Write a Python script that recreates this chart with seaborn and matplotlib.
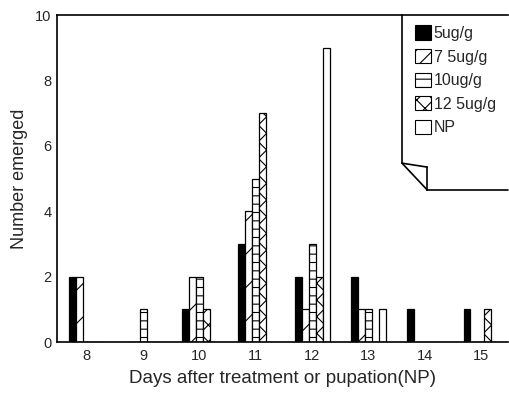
import pandas as pd
import seaborn as sns
import matplotlib.pyplot as plt
from matplotlib.patches import Patch
from matplotlib.lines import Line2D

# Values
days = [8, 9, 10, 11, 12, 13, 14, 15]
doses = ["5ug/g", "7 5ug/g", "10ug/g", "12 5ug/g", "NP"]
dose_5 = [2, 0, 1, 3, 2, 2, 1, 1]
dose_75 = [2, 0, 2, 4, 1, 1, 0, 0]
dose_10 = [0, 1, 2, 5, 3, 1, 0, 0]
dose_125 = [0, 0, 1, 7, 2, 0, 0, 1]
np_counts = [0, 0, 0, 0, 9, 1, 0, 0]

hatches = ["", "/", "--", "xx", ""]
legend_hatches = ["", "//", "--", "xx", ""]
faces = ["black", "white", "white", "white", "white"]

rows = []
for dose, vals in zip(doses, [dose_5, dose_75, dose_10, dose_125, np_counts]):
    for d, v in zip(days, vals):
        rows.append({"day": d, "count": v, "dose": dose})
df = pd.DataFrame(rows)

sns.set_style("white")
plt.rcParams['font.family'] = ['Liberation Sans', 'DejaVu Sans']
plt.rcParams['hatch.linewidth'] = 0.8

fig = plt.figure(figsize=(5.09, 3.95), dpi=100)
ax = fig.add_axes([0.112, 0.134, 0.886, 0.828])

sns.barplot(data=df, x="day", y="count", hue="dose", hue_order=doses,
            palette=["white"] * 5, edgecolor="black", linewidth=0.9,
            width=0.62, legend=False, ax=ax)

for cont, h, fc in zip(ax.containers, hatches, faces):
    for bar in cont:
        bar.set_hatch(h)
        bar.set_facecolor(fc)

ax.set_xlim(-0.53, 7.48)
ax.set_ylim(0, 10)
ax.set_yticks([0, 2, 4, 6, 8, 10])
ax.tick_params(axis="y", direction="in", length=7, width=1, labelsize=10.5, pad=4)
ax.tick_params(axis="x", length=0, labelsize=10.5, pad=5)
for s in ["left", "bottom", "top"]:
    ax.spines[s].set_linewidth(1.2)
    ax.spines[s].set_color("black")
ax.spines["right"].set_visible(False)

ax.set_xlabel("Days after treatment or pupation(NP)", fontsize=13.5, labelpad=5)
ax.set_ylabel("Number emerged", fontsize=13, labelpad=5)

# Legend with a dog-eared box
handles = [Patch(facecolor=fc, edgecolor="black", hatch=h, linewidth=0.8)
           for fc, h in zip(faces, legend_hatches)]
ax.legend(handles, doses, loc="upper left", bbox_to_anchor=(0.77, 1.0),
          frameon=False, fontsize=11.5, handlelength=1.0, handleheight=1.0,
          handletextpad=0.2, labelspacing=0.5, borderaxespad=0.25)

lx, fx, ty, by = 0.765, 0.821, 0.547, 0.465
tr = ax.transAxes
for xs, ys in [([lx, lx], [1.0, ty]), ([lx, fx], [ty, by]), ([lx, fx], [ty, 0.535]),
               ([fx, fx], [0.535, by]), ([fx, 1.0], [by, by])]:
    ax.add_line(Line2D(xs, ys, transform=tr, color="black", lw=1.2, clip_on=False))

fig.savefig("out.png", dpi=100)
